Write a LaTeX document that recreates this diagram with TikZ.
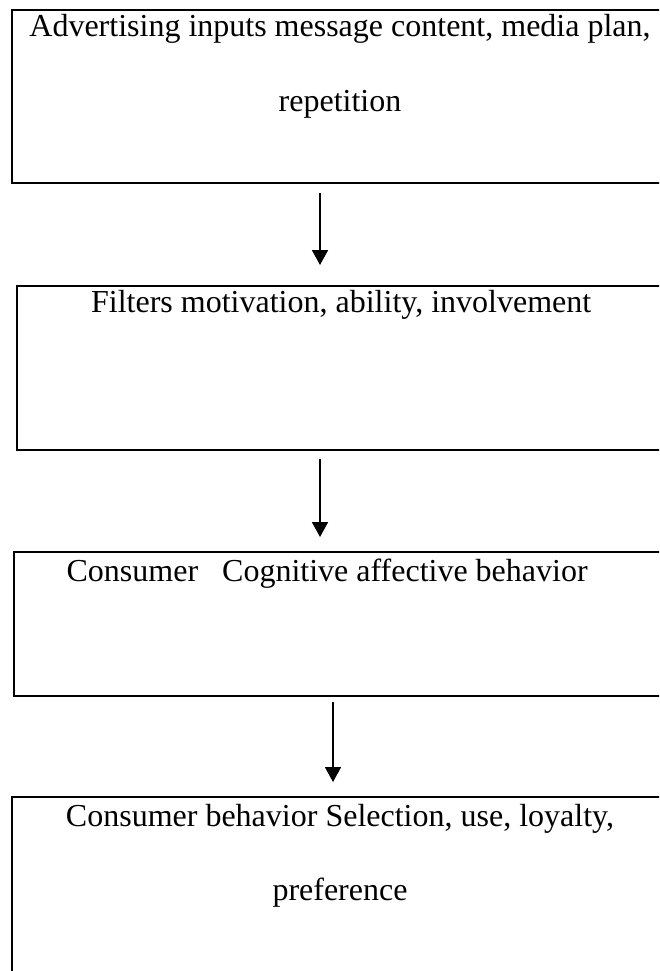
\documentclass[tikz,border=0pt]{standalone}
\usepackage{fontspec}
\setmainfont{Liberation Serif}
\usetikzlibrary{arrows.meta,positioning}

\begin{document}
\begin{tikzpicture}[x=0.375pt,y=-0.375pt,>={Triangle[width=6pt,length=5.6pt]},
  box/.style={draw,line width=0.65pt,rectangle,minimum width=656*0.375pt,inner sep=0pt},
  txt/.style={anchor=base,inner sep=0pt,align=center,font=\fontsize{12pt}{28.1pt}\selectfont},
  flow/.style={->,line width=0.6pt}]

\useasboundingbox (0,0) rectangle (659,971);
\clip (0,0) rectangle (659,971);

\node[box,minimum height=173*0.375pt] (inputs) at (340,96.5) {};
\node[box,minimum height=164*0.375pt,minimum width=651*0.375pt] (filters) at (342.5,368) {};
\node[box,minimum height=144*0.375pt,minimum width=654*0.375pt] (consumer) at (341,624) {};
\node[box,minimum height=193*0.375pt] (behavior) at (340,893.5) {};

% base of a two line node is its last line
\node[txt,yshift=-38.3pt] (inputstxt) at (inputs.north) {Advertising inputs message content, media plan,\\ repetition};
\node[txt,yshift=-10.2pt,xshift=-0.5pt] (filterstxt) at (filters.north) {Filters motivation, ability, involvement};
\node[txt,yshift=-11.2pt,xshift=-5.2pt] (consumertxt) at (consumer.north) {Consumer\ \ \ Cognitive affective behavior};
\node[txt,yshift=-39.3pt] (behaviortxt) at (behavior.north) {Consumer behavior Selection, use, loyalty,\\ preference};

\coordinate (a1s) at (320,193);
\coordinate (a1e) at (320,265);
\coordinate (a2s) at (320,459);
\coordinate (a2e) at (320,537);
\coordinate (a3s) at (333,702);
\coordinate (a3e) at (333,782);

\draw[flow] (a1s)--(a1e);
\draw[flow] (a2s)--(a2e);
\draw[flow] (a3s)--(a3e);

\end{tikzpicture}
\end{document}
